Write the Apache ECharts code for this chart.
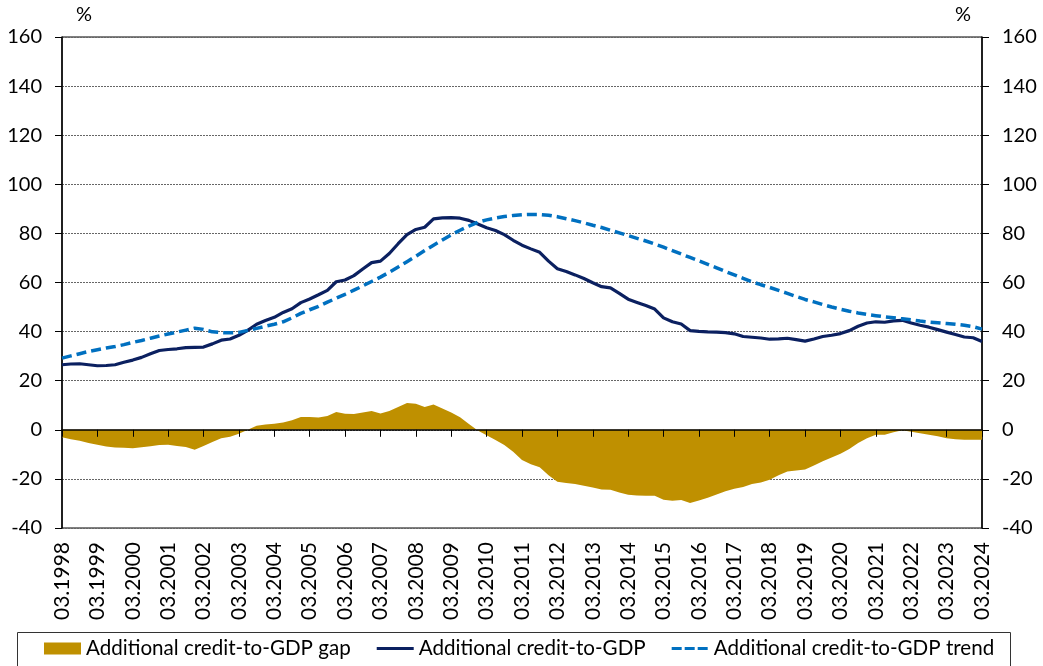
<!DOCTYPE html>
<html>
<head>
<meta charset="utf-8">
<script src="https://cdn.jsdelivr.net/npm/echarts@6/dist/echarts.min.js"></script>
<style>
    html, body { margin: 0; padding: 0; background: #fff; }
    #main { width: 1043px; height: 666px; }
</style>
</head>
<body>
<div id="main"></div>
<script type="text/javascript">
    // quarterly data, 03.1998 - 03.2024
    var firstYear = 1998;
    var lastYear = 2024;
    var months = ['03', '06', '09', '12'];

    var creditToGdp = [
        26.5, 26.8, 26.9, 26.5, 26.1, 26.2, 26.5, 27.5, 28.4, 29.5, 31, 32.3, 32.7, 33, 33.5, 33.6,
        33.7, 35, 36.5, 37, 38.5, 40.5, 43, 44.5, 45.8, 47.8, 49.3,
        51.8, 53.3, 55, 56.8, 60.3, 61, 62.8, 65.5, 68.1, 68.7, 71.8, 75.8, 79.5, 81.6, 82.5, 85.9,
        86.3, 86.4, 86.2, 85.3, 83.8, 82.3, 81.2, 79.5, 77.2, 75.2,
        73.7, 72.3, 68.7, 65.6, 64.5, 63.1, 61.6, 59.9, 58.3, 57.8, 55.6, 53.2, 51.9, 50.6, 49.2,
        45.6, 44, 43.1, 40.4, 40.1, 39.9, 39.8, 39.6, 39.1, 38, 37.7,
        37.4, 36.9, 37, 37.3, 36.7, 36.1, 37, 38, 38.5, 39.2, 40.4, 42.2, 43.5, 44, 43.8, 44.4,
        44.6, 43.5, 42.6, 41.8, 40.8, 39.8, 38.8, 37.8, 37.5, 36
    ];

    var creditTrend = [
        29.2, 30.1, 31, 31.9, 32.6, 33.3, 33.9, 34.7, 35.6, 36.4, 37.3, 38.2, 39, 39.8, 40.6, 41.4,
        40.9, 39.9, 39.6, 39.5, 39.7, 40.5, 41.3, 42.2, 43, 44, 45.6,
        47.4, 48.9, 50.3, 52, 53.6, 55.2, 56.9, 58.6, 60.4, 62.2, 64.2, 66.3, 68.5, 70.7, 73, 75.2,
        77.3, 79.4, 81.3, 83, 84.5, 85.5, 86.3, 86.9, 87.3, 87.6,
        87.7, 87.7, 87.4, 86.8, 86, 85.2, 84.3, 83.3, 82.4, 81.3, 80.2, 79.1, 78, 76.9, 75.7,
        74.4, 73, 71.6, 70.2, 68.8, 67.4, 66, 64.5, 63.1, 61.7, 60.3,
        59.1, 58, 56.8, 55.6, 54.3, 53.1, 52.1, 51, 50, 49.1, 48.3, 47.6, 47, 46.5, 46, 45.6,
        45.2, 44.8, 44.3, 43.9, 43.6, 43.3, 43, 42.6, 42, 41
    ];

    var creditGap = [
        -3, -3.8, -4.5, -5.4, -6.1, -6.8, -7.2, -7.3, -7.5, -7.1, -6.7, -6.2, -6.1, -6.6, -7, -8.1,
        -6.6, -5, -3.4, -2.8, -1.6, 0, 1.6, 2.2, 2.5, 3, 3.9,
        5.2, 5.2, 5, 5.6, 7.3, 6.5, 6.4, 7, 7.7, 6.6, 7.7, 9.3, 10.9, 10.6, 9.3, 10.3,
        8.7, 7, 5.1, 2.4, -0.3, -2.2, -4.2, -6.2, -8.9, -12.3,
        -14, -15.3, -18.5, -21.2, -21.7, -22.1, -22.8, -23.5, -24.3, -24.4, -25.5, -26.5, -26.8,
        -26.9, -26.9, -28.5, -28.9, -28.6, -29.8, -28.8, -27.7, -26.4, -25, -24, -23.3, -22.1,
        -21.5, -20.3, -18.5, -17, -16.6, -16.2, -14.5, -12.8, -11.3, -9.8, -7.8, -5.4, -3.4, -2,
        -2, -1, -0.2, -0.8, -1.4, -2, -2.6, -3.4, -3.8, -4.1, -4.1, -4.1
    ];

    var quarters = [];
    for (var y = firstYear; y <= lastYear; y++) {
        for (var m = 0; m < months.length; m++) {
            if (y === lastYear && m > 0) break;
            quarters.push(months[m] + '.' + y);
        }
    }

    var font = 'Lato, "Open Sans", sans-serif';

    // legend icons (37x12 box)
    var solidIcon = 'path://M0,0M37,12M0,4.5h37v3h-37z';
    var dashIcon = 'path://M0,0M37,12M0,4.5h10v3h-10zM13,4.5h10v3h-10zM26,4.5h10v3h-10z';

    var myChart = echarts.init(document.getElementById('main'));

    var yAxisBase = {
        type: 'value',
        min: -40,
        max: 160,
        interval: 20,
        axisLine: { show: true, lineStyle: { color: '#000', width: 1.5 } },
        axisTick: { show: true, length: 7, lineStyle: { color: '#000' } },
        axisLabel: { color: '#000', fontSize: 20, fontFamily: font, margin: 20 },
        splitLine: { show: true, lineStyle: { color: '#666', type: [2, 1], width: 1 } }
    };

    var option = {
        animation: false,
        backgroundColor: '#fff',
        grid: {
            left: 62, right: 61, top: 37, bottom: 138,
            show: true, borderColor: '#000', borderWidth: 1
        },
        legend: {
            left: 44,
            top: 638,
            padding: 0,
            itemWidth: 37,
            itemHeight: 12,
            itemGap: 26,
            textStyle: { color: '#000', fontSize: 20.6, fontFamily: font },
            data: [
                { name: 'Additional credit-to-GDP gap', icon: 'rect' },
                { name: 'Additional credit-to-GDP', icon: solidIcon },
                { name: 'Additional credit-to-GDP trend', icon: dashIcon }
            ]
        },
        graphic: [
            { type: 'text', left: 76, top: 5, style: { text: '%', fontSize: 20, fontFamily: font, fill: '#000' } },
            { type: 'text', left: 955, top: 5, style: { text: '%', fontSize: 20, fontFamily: font, fill: '#000' } },
            { type: 'rect', left: 15, top: 630, shape: { width: 993, height: 60 },
              style: { fill: 'none', stroke: '#333', lineWidth: 1 } }
        ],
        xAxis: [{
            type: 'category',
            data: quarters,
            boundaryGap: false,
            position: 'bottom',
            axisLine: { show: false, onZero: false },
            axisTick: { show: false },
            axisLabel: { interval: 3, rotate: 90, color: '#000', fontSize: 21, fontFamily: font, margin: 14 },
            splitLine: { show: false }
        }, {
            type: 'category',
            data: quarters,
            boundaryGap: false,
            position: 'top',
            z: 5,
            axisLine: { show: true, onZero: true, lineStyle: { color: '#000', width: 1.5 } },
            axisTick: { show: true, inside: true, interval: 3, length: 7, lineStyle: { color: '#000' } },
            axisLabel: { show: false },
            splitLine: { show: false }
        }],
        yAxis: [
            Object.assign({ position: 'left' }, yAxisBase),
            Object.assign({}, yAxisBase, { position: 'right', splitLine: { show: false } })
        ],
        series: [{
            name: 'Additional credit-to-GDP gap',
            type: 'line',
            data: creditGap,
            symbol: 'none',
            color: '#BF9000',
            lineStyle: { width: 0 },
            areaStyle: { color: '#BF9000', opacity: 1 },
            z: 1
        }, {
            name: 'Additional credit-to-GDP',
            type: 'line',
            data: creditToGdp,
            symbol: 'none',
            color: '#0B2060',
            lineStyle: { color: '#0B2060', width: 3.2 },
            z: 3
        }, {
            name: 'Additional credit-to-GDP trend',
            type: 'line',
            data: creditTrend,
            symbol: 'none',
            color: '#0070C0',
            lineStyle: { color: '#0070C0', width: 3.5, type: [10, 5] },
            z: 3
        }]
    };

    myChart.setOption(option);
</script>
</body>
</html>
